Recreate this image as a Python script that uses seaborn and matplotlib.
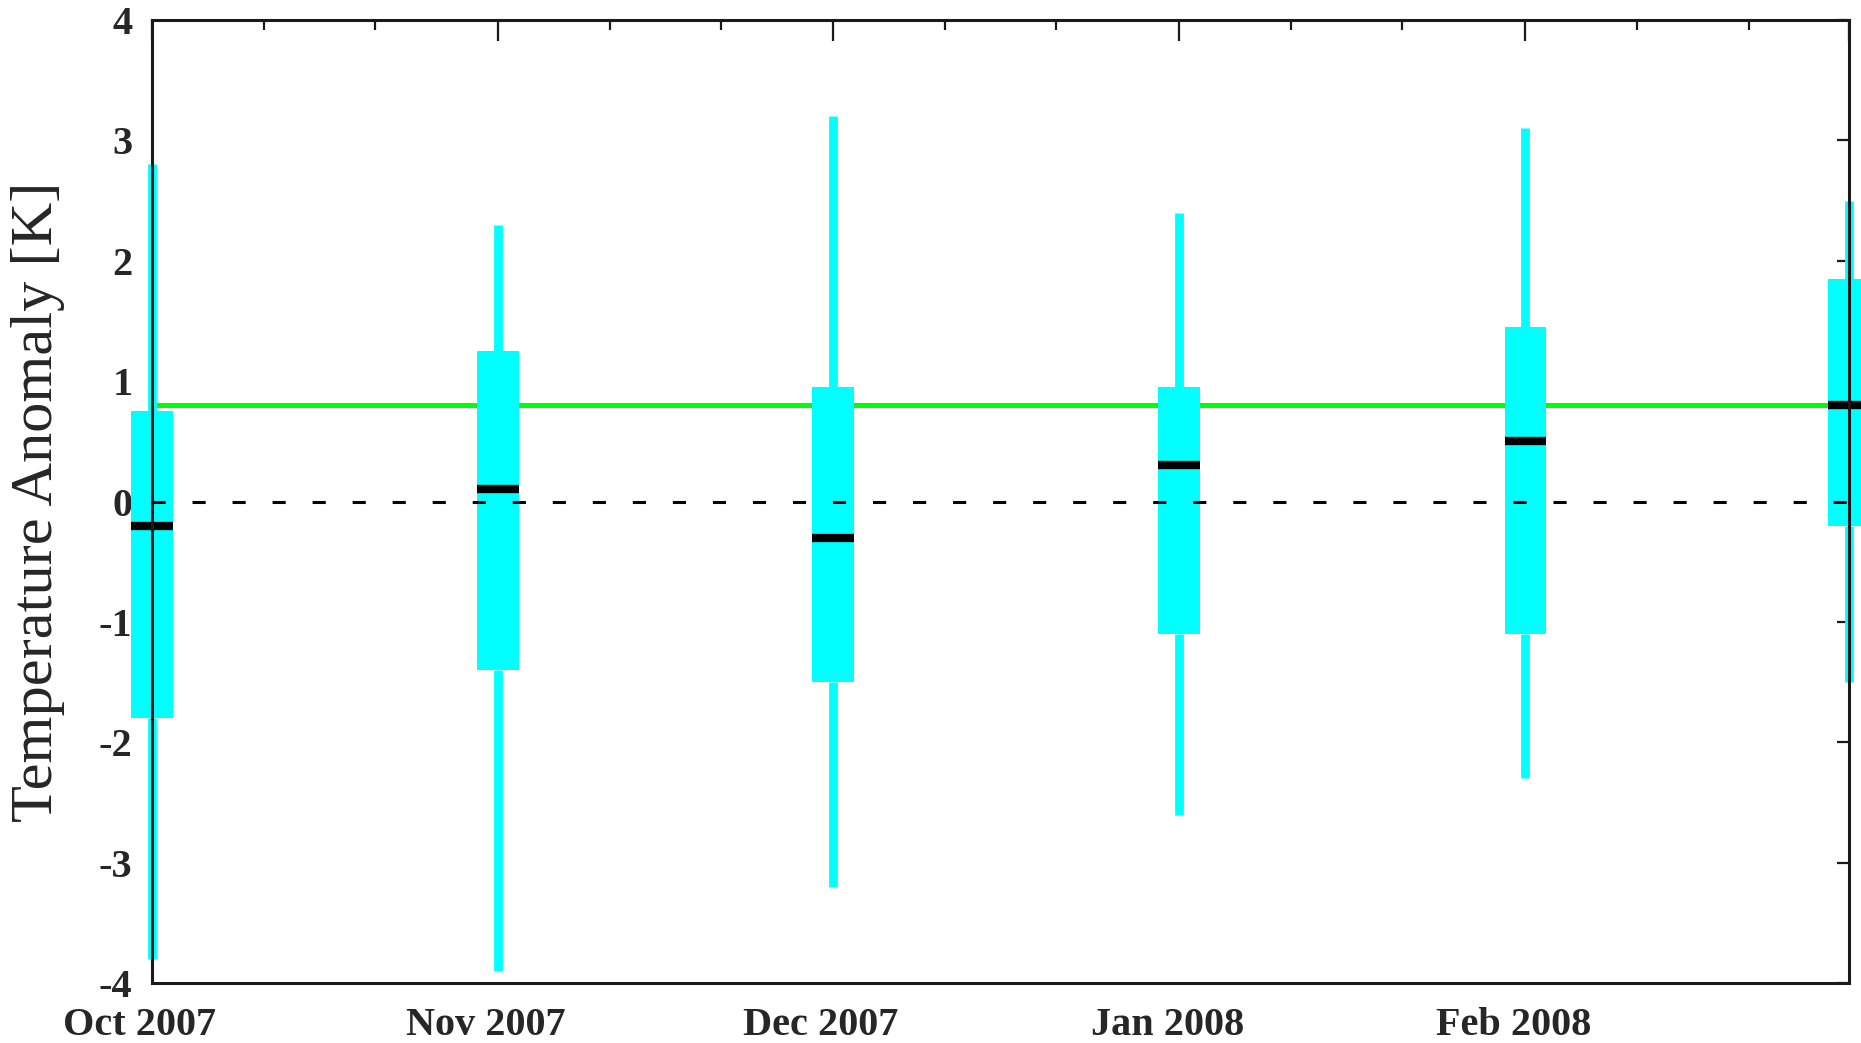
import numpy as np
import pandas as pd
import matplotlib
matplotlib.use("Agg")
import matplotlib.pyplot as plt
import seaborn as sns
from matplotlib.transforms import ScaledTranslation
from matplotlib.ticker import FixedLocator, FixedFormatter

# ---------------- data ----------------
month_days = [0, 31, 61, 92, 123, 152]          # days since 1 Oct 2007
month_labels = ["Oct 2007", "Nov 2007", "Dec 2007", "Jan 2008", "Feb 2008", ""]
whisker_low = [-3.8, -3.9, -3.2, -2.6, -2.3, -1.5]
box_low = [-1.8, -1.4, -1.5, -1.1, -1.1, -0.2]
median = [-0.2, 0.1, -0.3, 0.3, 0.5, 0.8]
box_high = [0.75, 1.25, 0.95, 0.95, 1.45, 1.85]
whisker_high = [2.8, 2.3, 3.2, 2.4, 3.1, 2.5]
reference_level = 0.8
zero_level = 0.0
y_ticks = [-4, -3, -2, -1, 0, 1, 2, 3, 4]
y_tick_labels = ["-4", "-3", "-2", "-1", "0", "1", "2", "3", "4"]

rows = []
for d, wl, bl, md, bh, wh in zip(month_days, whisker_low, box_low, median,
                                  box_high, whisker_high):
    for v in (wl, bl, md, bh, wh):
        rows.append({"day": d, "anomaly": v})
df = pd.DataFrame(rows)

CYAN = "#00ffff"
GREEN = "#00ff00"

sns.set_theme(style="white")
plt.rcParams["font.family"] = ["Liberation Serif", "DejaVu Serif"]
plt.rcParams["axes.unicode_minus"] = False

fig = plt.figure(figsize=(18.61, 10.43), dpi=100)
ax = fig.add_axes([0.0817, 0.0575, 0.9119, 0.9233])

sns.boxplot(
    data=df, x="day", y="anomaly", orient="x", native_scale=True,
    whis=(0, 100), width=0.128, color=CYAN, linecolor=CYAN, saturation=1,
    showcaps=False, showfliers=False, ax=ax,
    boxprops=dict(linewidth=0, facecolor=CYAN, edgecolor=CYAN),
    whiskerprops=dict(color=CYAN, linewidth=6.3, solid_capstyle="butt"),
    medianprops=dict(color="black", linewidth=6, solid_capstyle="butt"),
)
for art in list(ax.patches) + list(ax.lines):
    art.set_clip_on(False)

ax.axhline(reference_level, color=GREEN, lw=3.6, zorder=1.5)
ax.axhline(zero_level, color="black", lw=2.2, ls=(0, (4.3, 8.8)), zorder=3)

ax.set_xlim(month_days[0], month_days[-1])
ax.set_ylim(-4, 4)

minor_days = [m + k for m in month_days[:-1] for k in (10, 20)]
ax.xaxis.set_major_locator(FixedLocator(month_days))
ax.xaxis.set_major_formatter(FixedFormatter(month_labels))
ax.xaxis.set_minor_locator(FixedLocator(minor_days))
ax.yaxis.set_major_locator(FixedLocator(y_ticks))
ax.yaxis.set_major_formatter(FixedFormatter(y_tick_labels))

ax.tick_params(axis="both", which="both", direction="in", top=True, right=True,
               color="#1a1a1a", width=1.6)
ax.tick_params(axis="x", which="major", length=15, pad=17, labelsize=29)
ax.tick_params(axis="x", which="minor", length=7)
ax.tick_params(axis="y", which="major", length=9, pad=14, labelsize=29)
for lab in ax.get_xticklabels() + ax.get_yticklabels():
    lab.set_fontweight("bold")
for lab in ax.get_xticklabels():
    lab.set_transform(lab.get_transform() +
                      ScaledTranslation(-0.12, 0, fig.dpi_scale_trans))

ax.set_xlabel("")
ax.set_ylabel("Temperature Anomaly [K]", fontsize=43.5)
ax.yaxis.set_label_coords(-0.051, 0.5)

for s in ax.spines.values():
    s.set_linewidth(2.2)
    s.set_color("#1a1a1a")
    s.set_zorder(4)
    s.set_visible(True)

fig.savefig("out.png", dpi=100, facecolor="white")
